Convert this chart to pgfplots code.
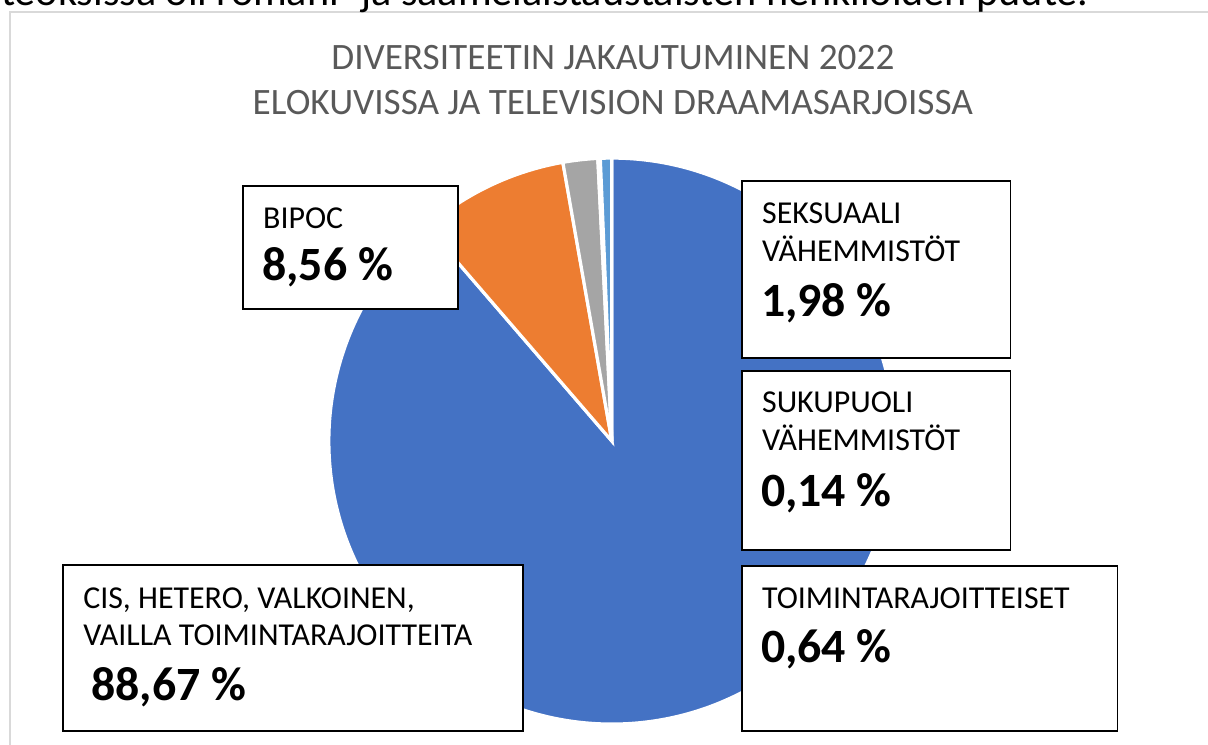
\documentclass[border=0pt]{standalone}
\usepackage{pgfplots}
\pgfplotsset{compat=1.18}
\usepackage{pgfplotstable}
\usepackage{fontspec}
\setmainfont{Carlito}
\definecolor{pblue}{HTML}{4472C4}
\definecolor{porange}{HTML}{ED7D31}
\definecolor{pgray}{HTML}{A5A5A5}
\definecolor{pyellow}{HTML}{FFC000}
\definecolor{plblue}{HTML}{5B9BD5}
\definecolor{titlegray}{HTML}{595959}
\definecolor{framegray}{HTML}{D9D9D9}

\pgfplotstableread{
name value
CIS 88.67
BIPOC 8.56
SEKS 1.98
SUKU 0.14
TOIM 0.64
}\piedata

\newcommand\lab{\fontsize{22.7}{27}\selectfont}
\newcommand\bignum{\fontsize{34}{40}\selectfont\bfseries}

\begin{document}
\begin{tikzpicture}
\pgfplotstablegetelem{0}{value}\of\piedata \pgfmathsetmacro\va{\pgfplotsretval}
\pgfplotstablegetelem{1}{value}\of\piedata \pgfmathsetmacro\vb{\pgfplotsretval}
\pgfplotstablegetelem{2}{value}\of\piedata \pgfmathsetmacro\vc{\pgfplotsretval}
\pgfplotstablegetelem{3}{value}\of\piedata \pgfmathsetmacro\vd{\pgfplotsretval}
\pgfplotstablegetelem{4}{value}\of\piedata \pgfmathsetmacro\ve{\pgfplotsretval}
\pgfmathsetmacro\aA{90}
\pgfmathsetmacro\aB{\aA-3.6*\va}
\pgfmathsetmacro\aC{\aB-3.6*\vb}
\pgfmathsetmacro\aD{\aC-3.6*\vc}
\pgfmathsetmacro\aE{\aD-3.6*\vd}
\pgfmathsetmacro\aF{\aE-3.6*\ve}
\begin{axis}[x=0.025cm,y=0.025cm,xmin=0,xmax=1208,ymin=0,ymax=745,
  hide axis,clip=false,anchor=south west,at={(0,0)}]
\addplot[draw=none] coordinates {(0,0) (1208,745)};
% frame
\draw[framegray,line width=1.3pt] (axis cs:10,-5) -- (axis cs:10,{745-12}) -- (axis cs:1215,{745-12});
% cut-off text line at the top (cut in the reference too)
\node[anchor=base west,inner sep=0,font=\fontsize{30}{34}\selectfont] at (axis cs:1,{745-5}) {teoksissa oli romani- ja saamelaistaustaisten henkilöiden puute.};
% title
\node[anchor=base,inner sep=0,text=titlegray,font=\fontsize{26.5}{30}\selectfont] at (axis cs:613,{745-69}) {DIVERSITEETIN JAKAUTUMINEN 2022};
\node[anchor=base,inner sep=0,text=titlegray,font=\fontsize{26.5}{30}\selectfont] at (axis cs:613,{745-114}) {ELOKUVISSA JA TELEVISION DRAAMASARJOISSA};
% pie
\fill[pblue,draw=white,line width=0.08cm] (axis cs:612,304) -- ++(\aA:7.075cm) arc[start angle=\aA,end angle=\aB,radius=7.075cm] -- cycle;
\fill[porange,draw=white,line width=0.08cm] (axis cs:612,304) -- ++(\aB:7.075cm) arc[start angle=\aB,end angle=\aC,radius=7.075cm] -- cycle;
\fill[pgray,draw=white,line width=0.08cm] (axis cs:612,304) -- ++(\aC:7.075cm) arc[start angle=\aC,end angle=\aD,radius=7.075cm] -- cycle;
\fill[pyellow,draw=white,line width=0.08cm] (axis cs:612,304) -- ++(\aD:7.075cm) arc[start angle=\aD,end angle=\aE,radius=7.075cm] -- cycle;
\fill[plblue,draw=white,line width=0.08cm] (axis cs:612,304) -- ++(\aE:7.075cm) arc[start angle=\aE,end angle=\aF,radius=7.075cm] -- cycle;
% label boxes
\draw[line width=1pt,fill=white] (axis cs:243,{745-186}) rectangle (axis cs:458,{745-309});
\node[anchor=base west,inner sep=0,font=\lab] at (axis cs:263,{745-228}) {BIPOC};
\node[anchor=base west,inner sep=0,font=\bignum] at (axis cs:262,{745-280}) {8,56 \%};

\draw[line width=1pt,fill=white] (axis cs:742,{745-181}) rectangle (axis cs:1011,{745-358});
\node[anchor=base west,inner sep=0,font=\lab] at (axis cs:762,{745-223}) {SEKSUAALI};
\node[anchor=base west,inner sep=0,font=\lab] at (axis cs:762,{745-261}) {VÄHEMMISTÖT};
\node[anchor=base west,inner sep=0,font=\bignum] at (axis cs:761,{745-316}) {1,98 \%};

\draw[line width=1pt,fill=white] (axis cs:742,{745-371}) rectangle (axis cs:1011,{745-550});
\node[anchor=base west,inner sep=0,font=\lab] at (axis cs:762,{745-412}) {SUKUPUOLI};
\node[anchor=base west,inner sep=0,font=\lab] at (axis cs:762,{745-450}) {VÄHEMMISTÖT};
\node[anchor=base west,inner sep=0,font=\bignum] at (axis cs:761,{745-506}) {0,14 \%};

\draw[line width=1pt,fill=white] (axis cs:742,{745-566}) rectangle (axis cs:1118,{745-731});
\node[anchor=base west,inner sep=0,font=\lab] at (axis cs:762,{745-608}) {TOIMINTARAJOITTEISET};
\node[anchor=base west,inner sep=0,font=\bignum] at (axis cs:761,{745-662}) {0,64 \%};

\draw[line width=1pt,fill=white] (axis cs:63,{745-565}) rectangle (axis cs:523,{745-731});
\node[anchor=base west,inner sep=0,font=\lab] at (axis cs:83,{745-608}) {CIS, HETERO, VALKOINEN,};
\node[anchor=base west,inner sep=0,font=\lab] at (axis cs:83,{745-645}) {VAILLA TOIMINTARAJOITTEITA};
\node[anchor=base west,inner sep=0,font=\bignum] at (axis cs:91,{745-700}) {88,67 \%};
\end{axis}
\pgfresetboundingbox
\path[use as bounding box] (0,0) rectangle (30.2cm,18.625cm);
\end{tikzpicture}
\end{document}
